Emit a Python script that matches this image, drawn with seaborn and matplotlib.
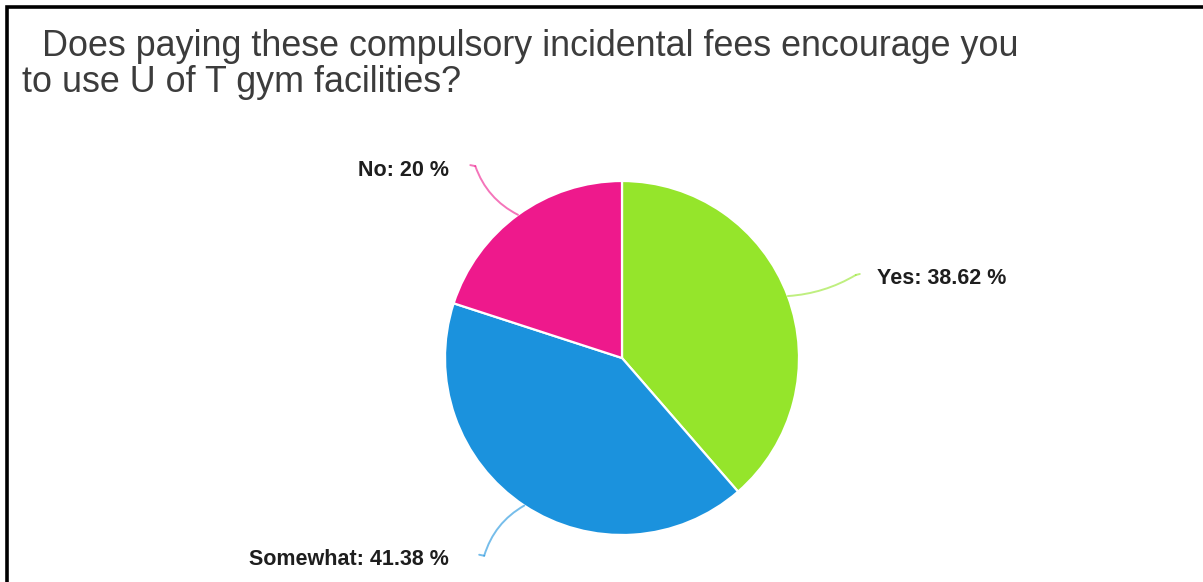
import numpy as np
import matplotlib
matplotlib.use("Agg")
import matplotlib.pyplot as plt
from matplotlib.patches import Rectangle
import seaborn as sns

# Survey answers, in drawing order (clockwise from 12 o'clock)
answers = ["Yes", "Somewhat", "No"]
shares = [38.62, 41.38, 20.0]
slice_colors = ["#95E52B", "#1B92DD", "#EE198C"]
title = ("  Does paying these compulsory incidental fees encourage you\n"
         "to use U of T gym facilities?")

sns.set_theme(style="white")
plt.rcParams["font.family"] = ["Liberation Sans", "DejaVu Sans"]

W, H = 1203, 582
fig = plt.figure(figsize=(W / 100, H / 100), dpi=100)
ax = fig.add_axes([0, 0, 1, 1])

cx, cy, r = 622, H - 358, 177
wedges, _ = ax.pie(shares, colors=slice_colors, startangle=90, counterclock=False,
                   center=(cx, cy), radius=r, frame=True,
                   wedgeprops=dict(edgecolor="white", linewidth=1.6))
ax.set_xlim(0, W)
ax.set_ylim(0, H)
ax.set_axis_off()

# Leader lines and labels placed from each wedge's mid angle
for w, name, val, col in zip(wedges, answers, shares, slice_colors):
    mid = np.deg2rad((w.theta1 + w.theta2) / 2)
    d = np.array([np.cos(mid), np.sin(mid)])
    start = np.array([cx, cy]) + r * d
    end = np.array([cx, cy]) + r * np.array([1.41 * d[0], 1.34 * d[1]])
    right = d[0] > 0
    hook = end + np.array([4 if right else -5, 1.0])
    rad = 0.12 if right else (-0.2 if d[1] > 0 else 0.2)
    ax.annotate("", xy=end, xytext=start,
                arrowprops=dict(arrowstyle="-", color=col, alpha=0.6, lw=1.4,
                                shrinkA=0, shrinkB=0,
                                connectionstyle=f"arc3,rad={rad}"))
    ax.plot([end[0], hook[0]], [end[1], hook[1]], color=col, alpha=0.6, lw=1.4,
            solid_capstyle="round")
    txt = f"{name}: {val:g} %"
    if right:
        ax.text(end[0] + 21, end[1] - 4, txt, ha="left", va="center",
                fontsize=15.5, fontweight="bold", color="#1e1e1e")
    else:
        gap = 26 if d[1] > 0 else 35
        ax.text(end[0] - gap, end[1] - 4, txt, ha="right", va="center",
                fontsize=15.5, fontweight="bold", color="#1e1e1e")

fig.text(22 / W, 1 - 29 / H, title, ha="left", va="top", fontsize=25.8,
         color="#3c3c3c", linespacing=1.03)

# Frame along the top and left edges
fig.patches.append(Rectangle((6.5 / W, -0.1), 1.2, 1.1 - 6.5 / H, transform=fig.transFigure,
                             fill=False, edgecolor="black", linewidth=2.6))

fig.savefig("out.png", dpi=100, facecolor="white")
